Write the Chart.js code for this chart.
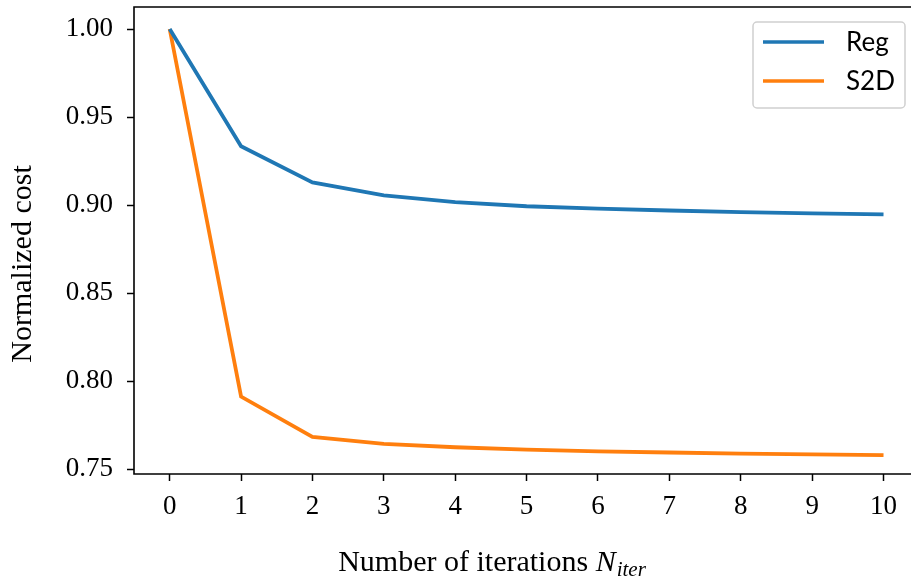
<!DOCTYPE html>
<html>
<head>
<meta charset="utf-8">
<script src="https://cdn.jsdelivr.net/npm/chart.js@4/dist/chart.umd.min.js"></script>
<style>
  html, body { margin: 0; padding: 0; background: #fff; overflow: hidden; }
</style>
</head>
<body>
<canvas id="chart" width="911" height="583"></canvas>
<script>
// data
const iterations = [0, 1, 2, 3, 4, 5, 6, 7, 8, 9, 10];
const regCost = [1.0, 0.9334, 0.9129, 0.9055, 0.9017, 0.8993, 0.8980, 0.8969, 0.8960, 0.8953, 0.8947];
const s2dCost = [1.0, 0.7912, 0.7683, 0.7643, 0.7624, 0.7610, 0.7600, 0.7594, 0.7588, 0.7583, 0.7579];
const xTicks = [0, 1, 2, 3, 4, 5, 6, 7, 8, 9, 10];
const yTicks = [0.75, 0.80, 0.85, 0.90, 0.95, 1.00];

const serif = "'Liberation Serif', 'DejaVu Serif', serif";

function points(values) {
    return iterations.map((x, i) => ({ x: x, y: values[i] }));
}

// black spines: left, top, bottom (the right one is cut off in the original)
const framePlugin = {
    id: 'frame',
    afterDatasetsDraw(chart) {
        const a = chart.chartArea;
        const ctx = chart.ctx;
        ctx.save();
        ctx.strokeStyle = '#000';
        ctx.lineWidth = 1.6;
        ctx.beginPath();
        ctx.moveTo(a.right + 2, a.top);
        ctx.lineTo(a.left, a.top);
        ctx.lineTo(a.left, a.bottom);
        ctx.lineTo(a.right + 2, a.bottom);
        ctx.stroke();
        ctx.restore();
    }
};

// legend box in the upper right corner
const legendPlugin = {
    id: 'boxLegend',
    afterDraw(chart) {
        const ctx = chart.ctx;
        const a = chart.chartArea;
        const right = a.right - 6, top = a.top + 15;
        const w = 152, h = 86;
        const left = right - w;
        ctx.save();
        ctx.fillStyle = 'rgba(255,255,255,0.8)';
        ctx.strokeStyle = '#d0d0d0';
        ctx.lineWidth = 1.5;
        ctx.beginPath();
        ctx.roundRect(left, top, w, h, 4);
        ctx.fill();
        ctx.stroke();
        ctx.font = "26px Lato, 'Noto Sans', sans-serif";
        ctx.textBaseline = 'middle';
        ctx.fillStyle = '#000';
        chart.data.datasets.forEach((ds, i) => {
            const y = top + 20 + i * 39;
            ctx.strokeStyle = ds.borderColor;
            ctx.lineWidth = 3.5;
            ctx.beginPath();
            ctx.moveTo(left + 10, y);
            ctx.lineTo(left + 71, y);
            ctx.stroke();
            ctx.fillText(ds.label, left + 93, y + 1);
        });
        ctx.restore();
    }
};

// axis titles, x one has an italic N with subscript "iter"
const titlePlugin = {
    id: 'axisTitles',
    afterDraw(chart) {
        const ctx = chart.ctx;
        ctx.save();
        ctx.fillStyle = '#000';
        ctx.textBaseline = 'alphabetic';

        ctx.font = '30px ' + serif;
        const main = 'Number of iterations ';
        const mainW = ctx.measureText(main).width;
        ctx.font = 'italic 30px ' + serif;
        const nW = ctx.measureText('N').width;
        ctx.font = 'italic 21px ' + serif;
        const subW = ctx.measureText('iter').width;
        const total = mainW + nW + 1 + subW;
        let x = 492 - total / 2;
        const base = 571;
        ctx.font = '30px ' + serif;
        ctx.fillText(main, x, base);
        x += mainW;
        ctx.font = 'italic 30px ' + serif;
        ctx.fillText('N', x, base);
        x += nW + 1;
        ctx.font = 'italic 21px ' + serif;
        ctx.fillText('iter', x, base + 5);

        ctx.translate(23, 264);
        ctx.rotate(-Math.PI / 2);
        ctx.font = '30px ' + serif;
        ctx.textAlign = 'center';
        ctx.textBaseline = 'middle';
        ctx.fillText('Normalized cost', 0, 0);
        ctx.restore();
    }
};

const data = {
    datasets: [
        {
            label: 'Reg',
            data: points(regCost),
            borderColor: '#1f77b4',
            borderWidth: 3.8,
            pointRadius: 0,
            fill: false,
        },
        {
            label: 'S2D',
            data: points(s2dCost),
            borderColor: '#ff7f0e',
            borderWidth: 3.8,
            pointRadius: 0,
            fill: false,
        },
    ],
};

const tickGrid = {
    display: true,
    drawOnChartArea: false,
    drawTicks: true,
    tickLength: 7,
    tickWidth: 1.5,
    tickColor: '#000',
};

new Chart(document.getElementById('chart'), {
    type: 'line',
    data: data,
    plugins: [framePlugin, legendPlugin, titlePlugin],
    options: {
        responsive: false,
        animation: false,
        layout: { padding: { top: 7, right: 0, left: 0, bottom: 0 } },
        elements: { line: { tension: 0 } },
        plugins: {
            legend: { display: false },
            tooltip: { enabled: false },
        },
        scales: {
            x: {
                type: 'linear',
                min: -0.5,
                max: 10.385,
                border: { display: false },
                grid: tickGrid,
                afterBuildTicks: (s) => { s.ticks = xTicks.map(v => ({ value: v })); },
                afterFit: (s) => { s.height = 109; s.paddingLeft = 0; s.paddingRight = 0; },
                ticks: {
                    color: '#000',
                    padding: 10,
                    maxRotation: 0,
                    autoSkip: false,
                    font: { family: serif, size: 27 },
                    callback: (v) => String(v),
                },
            },
            y: {
                min: 0.7472,
                max: 1.0125,
                border: { display: false },
                grid: tickGrid,
                afterBuildTicks: (s) => { s.ticks = yTicks.map(v => ({ value: v })); },
                afterFit: (s) => { s.width = 134; s.paddingTop = 0; s.paddingBottom = 0; },
                ticks: {
                    color: '#000',
                    padding: 14,
                    autoSkip: false,
                    font: { family: serif, size: 27 },
                    callback: (v) => v.toFixed(2),
                },
            },
        },
    },
});
</script>
</body>
</html>
